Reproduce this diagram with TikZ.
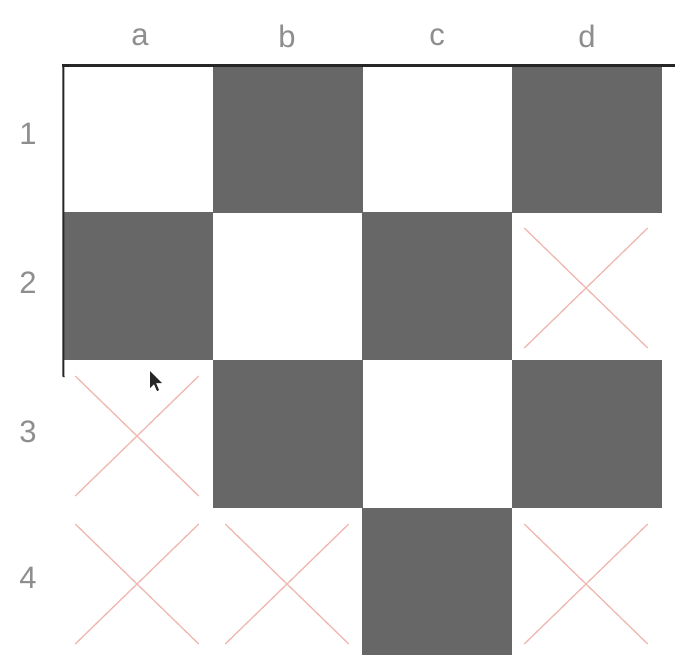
\documentclass[tikz,border=0pt]{standalone}
\usepackage{fontspec}
\setmainfont{Liberation Sans}
\definecolor{cellgray}{HTML}{676767}
\definecolor{crosspink}{HTML}{EFB8B0}
\definecolor{labelgray}{HTML}{8E8E8E}
\begin{document}
\begin{tikzpicture}[x=1pt,y=-1pt,
  cell/.style={rectangle,inner sep=0,outer sep=0,minimum width=149.5pt,minimum height=148pt},
  darkcell/.style={cell,fill=cellgray},
  whitecell/.style={cell},
  crossline/.style={draw=crosspink,line width=1.3pt},
  axislabel/.style={text=labelgray,font=\fontsize{31}{33}\selectfont,inner sep=0},
  gridline/.style={draw=black!85,line cap=butt}]
\useasboundingbox[fill=white] (0,0) rectangle (675,654);
% cells
\node[whitecell] (a1) at (138,139) {};
\node[darkcell]  (b1) at (288,139) {};
\node[whitecell] (c1) at (437,139) {};
\node[darkcell]  (d1) at (587,139) {};
\node[darkcell]  (a2) at (138,286) {};
\node[whitecell] (b2) at (288,286) {};
\node[darkcell]  (c2) at (437,286) {};
\node[whitecell] (d2) at (587,286) {};
\node[whitecell] (a3) at (138,434) {};
\node[darkcell]  (b3) at (288,434) {};
\node[whitecell] (c3) at (437,434) {};
\node[darkcell]  (d3) at (587,434) {};
\node[whitecell] (a4) at (138,582) {};
\node[whitecell] (b4) at (288,582) {};
\node[darkcell]  (c4) at (437,582) {};
\node[whitecell] (d4) at (587,582) {};
% crosses
\foreach \c in {d2,a3,a4,b4,d4}{
  \draw[crossline] ([xshift=12pt,yshift=-16pt]\c.north west) -- ([xshift=-14pt,yshift=12pt]\c.south east);
  \draw[crossline] ([xshift=-14pt,yshift=-16pt]\c.north east) -- ([xshift=12pt,yshift=12pt]\c.south west);
}
% border lines
\coordinate (topend) at (675,65);
\coordinate (leftend) at (63.5,377);
\draw[gridline,line width=3pt] ([xshift=-1pt]a1.north west) -- (topend);
\draw[gridline,line width=2pt] (a1.north west) -- (leftend);
% labels
\node[axislabel] (la) at (140,37) {a};
\node[axislabel] (lb) at (287,36) {b};
\node[axislabel] (lc) at (437,37) {c};
\node[axislabel] (ld) at (587,36) {d};
\node[axislabel] (l1) at (28,134) {1};
\node[axislabel] (l2) at (28,283) {2};
\node[axislabel] (l3) at (28,432) {3};
\node[axislabel] (l4) at (28,578) {4};
% mouse cursor
\fill[black!85,shift={(150,371)},scale=1.0]
  (0,0) -- (0,17) -- (4,13) -- (7,20) -- (9,19) -- (6,12) -- (12,12) -- cycle;
\end{tikzpicture}
\end{document}
